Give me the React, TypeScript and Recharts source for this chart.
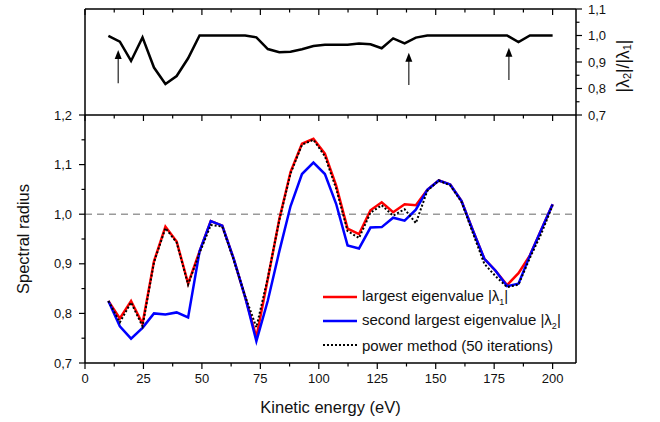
import React from "react";
import { LineChart, Line, XAxis, YAxis, ReferenceLine, Legend } from "recharts";

// kinetic energies of the calculated points (eV)
const energy = [
  10, 14.9, 19.7, 24.6, 29.5, 34.4, 39.2, 44.1, 49.0, 53.8, 58.7, 63.6, 68.5,
  73.3, 78.2, 83.1, 87.9, 92.8, 97.7, 102.6, 107.4, 112.3, 117.2, 122.1, 126.9,
  131.8, 136.7, 141.5, 146.4, 151.3, 156.2, 161.0, 165.9, 170.8, 175.6, 180.5,
  185.4, 190.3, 195.1, 200,
];

const largest = [
  0.825, 0.79, 0.825, 0.779, 0.905, 0.975, 0.945, 0.86, 0.925, 0.986, 0.977,
  0.91, 0.833, 0.752, 0.87, 0.99, 1.085, 1.142, 1.152, 1.122, 1.058, 0.971,
  0.96, 1.008, 1.024, 1.004, 1.02, 1.018, 1.049, 1.068, 1.06, 1.027, 0.967,
  0.91, 0.886, 0.857, 0.881, 0.917, 0.968, 1.02,
];

const secondLargest = [
  0.825, 0.774, 0.749, 0.771, 0.8, 0.798, 0.802, 0.792, 0.925, 0.986, 0.977,
  0.91, 0.833, 0.744, 0.826, 0.925, 1.016, 1.081, 1.104, 1.081, 1.021, 0.937,
  0.931, 0.973, 0.974, 0.993, 0.987, 1.009, 1.049, 1.068, 1.06, 1.027, 0.967,
  0.91, 0.886, 0.855, 0.86, 0.917, 0.968, 1.02,
];

const powerMethod = [
  0.825, 0.782, 0.822, 0.774, 0.903, 0.972, 0.943, 0.858, 0.922, 0.978, 0.975,
  0.908, 0.835, 0.772, 0.872, 0.988, 1.082, 1.14, 1.15, 1.117, 1.052, 0.966,
  0.952, 1.003, 1.018, 0.997, 1.01, 0.982, 1.047, 1.068, 1.058, 1.025, 0.962,
  0.9, 0.875, 0.853, 0.858, 0.912, 0.96, 1.018,
];

// |λ2| / |λ1|
const ratio = [
  0.999, 0.977, 0.904, 0.993, 0.879, 0.817, 0.847, 0.914, 1.0, 1.0, 1.0, 1.0,
  1.0, 0.993, 0.949, 0.937, 0.939, 0.948, 0.96, 0.965, 0.965, 0.965, 0.97,
  0.967, 0.952, 0.989, 0.97, 0.992, 1.0, 1.0, 1.0, 1.0, 1.0, 1.0, 1.0, 1.0,
  0.975, 1.0, 1.0, 1.0,
];

const xTicks = [
  0, 12.5, 25, 37.5, 50, 62.5, 75, 87.5, 100, 112.5, 125, 137.5, 150, 162.5,
  175, 187.5, 200,
];
const radiusTicks = [
  0.7, 0.75, 0.8, 0.85, 0.9, 0.95, 1.0, 1.05, 1.1, 1.15, 1.2,
];
const ratioTicks = [0.7, 0.75, 0.8, 0.85, 0.9, 0.95, 1.0, 1.05, 1.1];

// arrows in the upper panel: energy, tail and tip
const arrowX = [14.2, 138.5, 181.3];
const arrowTail = [0.82, 0.813, 0.832];
const arrowTip = [0.945, 0.935, 0.954];

const legendOrder = ["largest", "second", "power"];
const legendLabels: Record<string, [string, string, string]> = {
  largest: ["largest eigenvalue |λ", "1", "|"],
  second: ["second largest eigenvalue |λ", "2", "|"],
  power: ["power method (50 iterations)", "", ""],
};

const spectrum = energy.map((e, i) => ({
  energy: e,
  largest: largest[i],
  second: secondLargest[i],
  power: powerMethod[i],
}));
const ratioData = energy.map((e, i) => ({ energy: e, ratio: ratio[i] }));

const FONT = "'Liberation Sans', Arial, sans-serif";
const AXIS = { stroke: "#000", strokeWidth: 1.5 };

const fmt = (v: number) => v.toFixed(1).replace(".", ",");

function AxisTick(props: any) {
  const { x, y, payload, side, labels, inward } = props;
  const v = payload.value;
  const vertical = side === "left" || side === "right";
  const isMajor = vertical
    ? Math.abs(v * 10 - Math.round(v * 10)) < 1e-6
    : Math.abs(v % 25) < 1e-6;
  const len = isMajor ? 6 : 3.5;
  let dx = 0;
  let dy = 0;
  if (side === "left") dx = -1;
  if (side === "right") dx = 1;
  if (side === "top") dy = -1;
  if (side === "bottom") dy = 1;
  if (inward) {
    dx = -dx;
    dy = -dy;
  }
  let label = null;
  if (labels && isMajor) {
    if (side === "left") {
      label = (
        <text x={x - 13} y={y} textAnchor="end" dominantBaseline="central"
          fontSize={13} fontFamily={FONT} fill="#111">
          {fmt(v)}
        </text>
      );
    } else if (side === "right") {
      label = (
        <text x={x + 12} y={y} textAnchor="start" dominantBaseline="central"
          fontSize={13} fontFamily={FONT} fill="#111">
          {fmt(v)}
        </text>
      );
    } else {
      label = (
        <text x={x} y={y + 11} dy="0.71em" textAnchor="middle"
          fontSize={13} fontFamily={FONT} fill="#111">
          {v}
        </text>
      );
    }
  }
  return (
    <g>
      <line x1={x} y1={y} x2={x + dx * len} y2={y + dy * len}
        stroke="#000" strokeWidth={1.2} />
      {label}
    </g>
  );
}

function Arrow(props: any) {
  const { x1, y1, x2, y2 } = props;
  return (
    <g>
      <line x1={x1} y1={y1} x2={x2} y2={y2 + 8} stroke="#222" strokeWidth={1.2} />
      <polygon
        points={`${x2},${y2} ${x2 - 3.5},${y2 + 9} ${x2 + 3.5},${y2 + 9}`}
        fill="#000"
      />
    </g>
  );
}

function SpectrumLegend({ payload }: { payload?: any[] }) {
  if (!payload) return null;
  const entries = legendOrder
    .map((key) => payload.find((p) => p.dataKey === key))
    .filter(Boolean);
  return (
    <div style={{ fontFamily: FONT, fontSize: 15, color: "#111" }}>
      {entries.map((entry) => {
        const [text, sub, tail] = legendLabels[entry.dataKey];
        return (
          <div key={entry.dataKey}
            style={{ display: "flex", alignItems: "center", height: 24 }}>
            <svg width={34} height={4} style={{ marginRight: 5 }}>
              <line x1={0} y1={2} x2={34} y2={2} stroke={entry.color}
                strokeWidth={entry.payload?.strokeWidth ?? 2.5}
                strokeDasharray={entry.payload?.strokeDasharray} />
            </svg>
            <span style={{ whiteSpace: "nowrap" }}>
              {text}
              {sub && <sub style={{ fontSize: 9 }}>{sub}</sub>}
              {tail}
            </span>
          </div>
        );
      })}
    </div>
  );
}

export default function App() {
  return (
    <div style={{ position: "absolute", left: 0, top: 0, width: 660, height: 422, background: "#fff" }}>
      <div style={{ position: "absolute", left: 0, top: 0 }}>
        <LineChart width={660} height={130} data={ratioData}
          margin={{ top: 0, right: 0, bottom: 15, left: 0 }}>
          <XAxis dataKey="energy" type="number" domain={[0, 210]} ticks={xTicks}
            orientation="top" height={9} interval={0} axisLine={AXIS}
            tickLine={false} tickSize={0} tickMargin={0}
            tick={<AxisTick side="top" inward />} />
          <YAxis yAxisId="l" type="number" domain={[0.7, 1.1]} ticks={ratioTicks}
            width={85} interval={0} axisLine={AXIS} tickLine={false}
            tickSize={0} tickMargin={0} tick={<AxisTick side="left" inward />} />
          <YAxis type="number" domain={[0.7, 1.1]} ticks={ratioTicks}
            orientation="right" width={84} interval={0} axisLine={AXIS}
            tickLine={false} tickSize={0} tickMargin={0}
            tick={<AxisTick side="right" labels />}
            label={{
              content: (p: any) => {
                const vb = p.viewBox;
                const cx = vb.x + 47;
                const cy = vb.y + vb.height / 2 + 4;
                return (
                  <text x={cx} y={cy} transform={`rotate(-90, ${cx}, ${cy})`}
                    textAnchor="middle" dominantBaseline="central"
                    fontSize={17.5} fontFamily={FONT} fill="#111">
                    |λ<tspan fontSize={11} dy={4}>2</tspan>
                    <tspan dy={-4}>|/|λ</tspan>
                    <tspan fontSize={11} dy={4}>1</tspan>
                    <tspan dy={-4}>|</tspan>
                  </text>
                );
              },
            }} />
          <Line dataKey="ratio" type="linear" stroke="#000" strokeWidth={2.5}
            dot={false} isAnimationActive={false} />
          {arrowX.map((ax, i) => (
            <ReferenceLine key={ax}
              segment={[{ x: ax, y: arrowTail[i] }, { x: ax, y: arrowTip[i] }]}
              shape={Arrow} />
          ))}
        </LineChart>
      </div>
      <div style={{ position: "absolute", left: 0, top: 0 }}>
        <LineChart width={660} height={422} data={spectrum}
          margin={{ top: 0, right: 0, bottom: 0, left: 0 }}>
          <XAxis dataKey="energy" type="number" domain={[0, 210]} ticks={xTicks}
            height={59} interval={0} axisLine={AXIS} tickLine={false}
            tickSize={0} tickMargin={0} tick={<AxisTick side="bottom" labels />}
            label={{
              content: (p: any) => {
                const vb = p.viewBox;
                return (
                  <text x={vb.x + vb.width / 2} y={vb.y + 44}
                    textAnchor="middle" dominantBaseline="central"
                    fontSize={16.5} fontFamily={FONT} fill="#111">
                    Kinetic energy (eV)
                  </text>
                );
              },
            }} />
          <XAxis xAxisId="t" dataKey="energy" type="number" domain={[0, 210]}
            ticks={xTicks} orientation="top" height={115} interval={0}
            axisLine={AXIS} tickLine={false} tickSize={0} tickMargin={0}
            tick={<AxisTick side="top" inward />} />
          <YAxis type="number" domain={[0.7, 1.2]} ticks={radiusTicks}
            width={85} interval={0} axisLine={AXIS} tickLine={false}
            tickSize={0} tickMargin={0} tick={<AxisTick side="left" labels />}
            label={{
              content: (p: any) => {
                const vb = p.viewBox;
                const cx = vb.x + 23;
                const cy = vb.y + vb.height / 2;
                return (
                  <text x={cx} y={cy} transform={`rotate(-90, ${cx}, ${cy})`}
                    textAnchor="middle" dominantBaseline="central"
                    fontSize={16.5} fontFamily={FONT} fill="#111">
                    Spectral radius
                  </text>
                );
              },
            }} />
          <YAxis yAxisId="r" type="number" domain={[0.7, 1.2]} ticks={radiusTicks}
            orientation="right" width={84} interval={0} axisLine={AXIS}
            tickLine={false} tickSize={0} tickMargin={0}
            tick={<AxisTick side="right" />} />
          <ReferenceLine y={1} stroke="#9a9a9a" strokeWidth={1.5}
            strokeDasharray="7 5" />
          <Line dataKey="largest" name="largest" type="linear" stroke="#ff0000"
            strokeWidth={2.5} dot={false} isAnimationActive={false} />
          <Line dataKey="second" name="second" type="linear" stroke="#0000ff"
            strokeWidth={2.5} dot={false} isAnimationActive={false} />
          <Line dataKey="power" name="power" type="linear" stroke="#000"
            strokeWidth={2} strokeDasharray="2 2" dot={false}
            isAnimationActive={false} />
          <Legend layout="vertical" align="center" verticalAlign="middle"
            content={<SpectrumLegend />}
            wrapperStyle={{ left: 323, top: 285, width: 280 }} />
        </LineChart>
      </div>
    </div>
  );
}
